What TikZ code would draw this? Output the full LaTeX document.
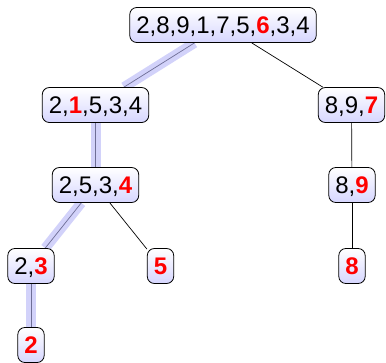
\documentclass[tikz,border=0pt]{standalone}
\usepackage{fontspec}
\setmainfont{Liberation Sans}
\usetikzlibrary{backgrounds}
\definecolor{hlfill}{RGB}{210,210,250}
\definecolor{hlline}{RGB}{110,110,150}
\tikzset{
  tn/.style={draw=black, line width=0.8pt, rounded corners=7pt,
    top color=white, bottom color=blue!16,
    inner xsep=6.5pt, inner ysep=0pt, minimum height=35pt,
    text height=17.5pt, text depth=0pt,
    font=\fontsize{24}{28}\selectfont},
  hl/.style={line width=10pt, hlfill},
  hlthin/.style={line width=0.7pt, hlline},
  edge/.style={line width=0.7pt, black}
}
\newcommand{\rd}[1]{\textcolor{red}{\textbf{#1}}}
\begin{document}
\begin{tikzpicture}[x=1pt,y=1pt]
\useasboundingbox (0,0) rectangle (386,-362);
\node[tn] (r) at (223,-25) {2,8,9,1,7,5,\rd{6},3,4};
\node[tn] (a) at (95.5,-105) {2,\rd{1},5,3,4};
\node[tn] (b) at (351.5,-105) {8,9,\rd{7}};
\node[tn] (c) at (95.5,-185) {2,5,3,\rd{4}};
\node[tn] (d) at (352,-185) {8,\rd{9}};
\node[tn] (e) at (31,-266) {2,\rd{3}};
\node[tn] (f) at (160.5,-266) {\rd{5}};
\node[tn] (g) at (352,-266) {\rd{8}};
\node[tn] (h) at (31,-345) {\rd{2}};
\begin{pgfonlayer}{background}
\draw[hl] (r) -- (a);
\draw[hl] (a) -- (c);
\draw[hl] (c) -- (e);
\draw[hl] (e) -- (h);
\draw[hlthin] (r) -- (a);
\draw[hlthin] (a) -- (c);
\draw[hlthin] (c) -- (e);
\draw[hlthin] (e) -- (h);
\draw[edge] (r) -- (b);
\draw[edge] (b) -- (d);
\draw[edge] (d) -- (g);
\draw[edge] (c) -- (f);
\end{pgfonlayer}
\end{tikzpicture}
\end{document}
